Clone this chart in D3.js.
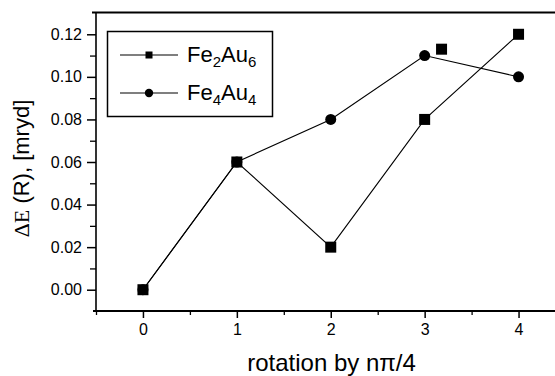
<!DOCTYPE html>
<html><head><meta charset="utf-8">
<script src="https://cdn.jsdelivr.net/npm/d3@7"></script>
<style>
html,body{margin:0;padding:0;background:#fff;}
svg{display:block;}
text{font-family:"Liberation Sans",Arial,sans-serif;fill:#000;}
</style></head>
<body><svg id="c" width="555" height="376"></svg>
<script>
const rotations = [0, 1, 2, 3, 4];
const fe2au6 = [0.000, 0.060, 0.020, 0.080, 0.120];
const fe4au4 = [0.000, 0.060, 0.080, 0.110, 0.100];
const strayX = [3.18];
const strayY = [0.113];
const yTicks = [0.00, 0.02, 0.04, 0.06, 0.08, 0.10, 0.12];
const yMinor = [0.01, 0.03, 0.05, 0.07, 0.09, 0.11];
const xTicks = [0, 1, 2, 3, 4];
const xMinor = [-0.5, 0.5, 1.5, 2.5, 3.5];

const svg = d3.select("#c");
const x = d3.scaleLinear().domain([-0.5, 4.5]).range([96, 565.5]);
const y = d3.scaleLinear().domain([-0.01, 0.13]).range([311, 13]);

// minor ticks
svg.append("g").attr("transform","translate(96,0)")
  .call(d3.axisLeft(y).tickValues(yMinor).tickSize(6).tickFormat(""))
  .call(g=>g.select(".domain").remove())
  .call(g=>g.selectAll("line").attr("stroke","#000").attr("stroke-width",1.3));
svg.append("g").attr("transform","translate(0,311)")
  .call(d3.axisBottom(x).tickValues(xMinor).tickSize(4).tickFormat(""))
  .call(g=>g.select(".domain").remove())
  .call(g=>g.selectAll("line").attr("stroke","#000").attr("stroke-width",1.3));

// major axes
const ya = svg.append("g").attr("transform","translate(96,0)")
  .call(d3.axisLeft(y).tickValues(yTicks).tickSize(9).tickPadding(5).tickFormat(d3.format(".2f")));
ya.select(".domain").remove();
ya.selectAll("line").attr("stroke","#000").attr("stroke-width",1.5);
ya.selectAll("text").attr("font-size",16).attr("font-family","Liberation Sans, Arial, sans-serif");

const xa = svg.append("g").attr("transform","translate(0,311)")
  .call(d3.axisBottom(x).tickValues(xTicks).tickSize(7).tickPadding(6).tickFormat(d3.format("d")));
xa.select(".domain").remove();
xa.selectAll("line").attr("stroke","#000").attr("stroke-width",1.5);
xa.selectAll("text").attr("font-size",16).attr("font-family","Liberation Sans, Arial, sans-serif");

// frame (right edge lies outside the picture)
svg.append("line").attr("x1",96).attr("x2",96).attr("y1",12).attr("y2",312).attr("stroke","#000").attr("stroke-width",1.6);
svg.append("line").attr("x1",93).attr("x2",555).attr("y1",311).attr("y2",311).attr("stroke","#000").attr("stroke-width",2);
svg.append("line").attr("x1",92).attr("x2",555).attr("y1",12.5).attr("y2",12.5).attr("stroke","#000").attr("stroke-width",2);

// series lines
const line = d3.line().x(d=>x(d[0])).y(d=>y(d[1]));
const s1 = rotations.map((r,i)=>[r, fe2au6[i]]);
const s2 = rotations.map((r,i)=>[r, fe4au4[i]]);
svg.append("path").attr("d", line(s2)).attr("fill","none").attr("stroke","#000").attr("stroke-width",1.1);
svg.append("path").attr("d", line(s1)).attr("fill","none").attr("stroke","#000").attr("stroke-width",1.1);

// markers
svg.selectAll("circle.m").data(s2).enter().append("circle")
  .attr("cx",d=>x(d[0])).attr("cy",d=>y(d[1])).attr("r",5.5).attr("fill","#000");
const sq = 11;
svg.selectAll("rect.m").data(s1).enter().append("rect")
  .attr("x",d=>x(d[0])-sq/2).attr("y",d=>y(d[1])-sq/2).attr("width",sq).attr("height",sq).attr("fill","#000");
svg.selectAll("rect.s").data(strayX.map((v,i)=>[v,strayY[i]])).enter().append("rect")
  .attr("x",d=>x(d[0])-sq/2).attr("y",d=>y(d[1])-sq/2).attr("width",sq).attr("height",sq).attr("fill","#000");

// legend
const lg = svg.append("g");
lg.append("rect").attr("x",107.5).attr("y",31.5).attr("width",165).attr("height",85)
  .attr("fill","#fff").attr("stroke","#000").attr("stroke-width",1.5);
const rows = [{sym:"sq", a:"2", b:"6", cy:55}, {sym:"ci", a:"4", b:"4", cy:93}];
rows.forEach(r=>{
  lg.append("line").attr("x1",120).attr("x2",178).attr("y1",r.cy).attr("y2",r.cy).attr("stroke","#000").attr("stroke-width",1.1);
  if(r.sym==="sq") lg.append("rect").attr("x",149-3.5).attr("y",r.cy-3.5).attr("width",7).attr("height",7).attr("fill","#000");
  else lg.append("circle").attr("cx",149).attr("cy",r.cy).attr("r",4.2).attr("fill","#000");
  const t = lg.append("text").attr("x",187).attr("y",r.cy+7).attr("font-size",22);
  t.append("tspan").text("Fe");
  t.append("tspan").attr("font-size",15).attr("dy",5).text(r.a);
  t.append("tspan").attr("dy",-5).text("Au");
  t.append("tspan").attr("font-size",15).attr("dy",5).text(r.b);
});

// axis titles
svg.append("text").attr("x",331.5).attr("y",371).attr("text-anchor","middle").attr("font-size",24)
  .text("rotation by n\u03c0/4");
const yl = svg.append("text").attr("transform","translate(29,168.5) rotate(-90)").attr("text-anchor","middle").attr("font-size",22);
yl.append("tspan").attr("font-family","Liberation Serif, Times New Roman, serif").text("\u0394E");
yl.append("tspan").text(" (R), [mryd]");
</script></body></html>
